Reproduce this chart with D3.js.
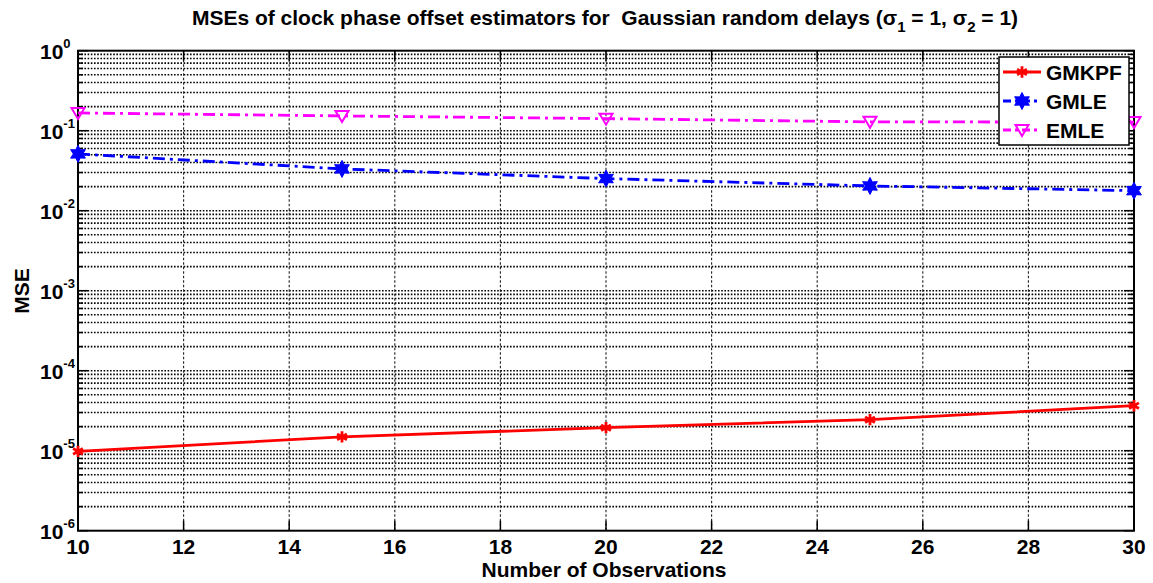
<!DOCTYPE html>
<html><head><meta charset="utf-8">
<script src="https://cdn.jsdelivr.net/npm/d3@7"></script>
<style>body{margin:0;background:#fff}svg{display:block;font-family:"Liberation Sans",Arial,sans-serif}</style>
</head><body><svg id="c" width="1153" height="583"></svg>
<script>
const observations = [10, 15, 20, 25, 30];
const gmkpf = [9.8e-6, 1.49e-5, 1.94e-5, 2.44e-5, 3.65e-5];
const gmle = [0.0513, 0.0333, 0.0252, 0.0204, 0.0178];
const emle = [0.1667, 0.153, 0.1415, 0.129, 0.128];
const xTicks = [10, 12, 14, 16, 18, 20, 22, 24, 26, 28, 30];
const yExponents = [0, -1, -2, -3, -4, -5, -6];
const seriesNames = ["GMKPF", "GMLE", "EMLE"];
const titleParts = ["MSEs of clock phase offset estimators for  Gaussian random delays (σ", "1", " = 1, σ", "2", " = 1)"];

const svg = d3.select("#c");
const L = 78, R = 1134, T = 50.7, B = 530.7;
const x = d3.scaleLinear().domain([10, 30]).range([L, R]);
const y = d3.scaleLog().domain([1e-6, 1]).range([B, T]);

// grid
const g = svg.append("g");
const minor = [];
for (let e = -6; e < 0; e++) for (let m = 2; m <= 9; m++) minor.push(m * Math.pow(10, e));
const majors = yExponents.map(e => Math.pow(10, e));
g.selectAll(".hg").data(minor.concat(majors.slice(1, -1))).join("line")
  .attr("x1", L).attr("x2", R).attr("y1", d => y(d)).attr("y2", d => y(d))
  .attr("stroke", "#000").attr("stroke-width", 1.6).attr("stroke-dasharray", "1.6,1.6");
g.selectAll(".vg").data(xTicks.slice(1, -1)).join("line")
  .attr("x1", d => x(d)).attr("x2", d => x(d)).attr("y1", T).attr("y2", B)
  .attr("stroke", "#222").attr("stroke-width", 1.1).attr("stroke-dasharray", "2.5,2");

// ticks inside
const tk = svg.append("g").attr("stroke", "#000").attr("stroke-width", 1.5);
xTicks.forEach(t => {
  tk.append("line").attr("x1", x(t)).attr("x2", x(t)).attr("y1", B).attr("y2", B - 10);
  tk.append("line").attr("x1", x(t)).attr("x2", x(t)).attr("y1", T).attr("y2", T + 10);
});
majors.forEach(v => {
  tk.append("line").attr("x1", L).attr("x2", L + 10).attr("y1", y(v)).attr("y2", y(v));
  tk.append("line").attr("x1", R).attr("x2", R - 10).attr("y1", y(v)).attr("y2", y(v));
});
minor.forEach(v => {
  tk.append("line").attr("x1", L).attr("x2", L + 5).attr("y1", y(v)).attr("y2", y(v));
  tk.append("line").attr("x1", R).attr("x2", R - 5).attr("y1", y(v)).attr("y2", y(v));
});
svg.append("rect").attr("x", L).attr("y", T).attr("width", R - L).attr("height", B - T)
  .attr("fill", "none").attr("stroke", "#000").attr("stroke-width", 2);

// axes labels
svg.append("g").selectAll("text").data(xTicks).join("text")
  .attr("x", d => x(d)).attr("y", 554).attr("text-anchor", "middle")
  .attr("font-size", 21).attr("font-weight", "bold").text(d => d);
const yl = svg.append("g").selectAll("text").data(yExponents).join("text")
  .attr("x", 40).attr("y", e => y(Math.pow(10, e)) + 8)
  .attr("font-size", 21).attr("font-weight", "bold");
yl.append("tspan").text("10");
yl.append("tspan").attr("dy", -11).attr("font-size", 13).text(e => e);

svg.append("text").attr("x", 604).attr("y", 577).attr("text-anchor", "middle")
  .attr("font-size", 21).attr("font-weight", "bold").text("Number of Observations");
svg.append("text").attr("transform", "translate(29,291) rotate(-90)").attr("text-anchor", "middle")
  .attr("font-size", 21).attr("font-weight", "bold").text("MSE");

const title = svg.append("text").attr("x", 605).attr("y", 25).attr("text-anchor", "middle")
  .attr("font-size", 21).attr("font-weight", "bold").style("white-space", "pre");
title.append("tspan").text(titleParts[0]);
title.append("tspan").attr("dy", 7).attr("font-size", 15).text(titleParts[1]);
title.append("tspan").attr("dy", -7).text(titleParts[2]);
title.append("tspan").attr("dy", 7).attr("font-size", 15).text(titleParts[3]);
title.append("tspan").attr("dy", -7).text(titleParts[4]);

// markers
function hexagram(r) {
  const pts = [];
  for (let i = 0; i < 12; i++) {
    const a = Math.PI / 2 + i * Math.PI / 6;
    const rr = i % 2 === 0 ? r : r * 0.55;
    pts.push([rr * Math.cos(a), -rr * Math.sin(a)]);
  }
  return "M" + pts.map(p => p.join(",")).join("L") + "Z";
}
const styles = [
  {name: seriesNames[0], data: gmkpf, color: "#ff0000", dash: null,
   marker: sel => sel.append("path").attr("d", d3.symbol(d3.symbolAsterisk, 90)()).attr("stroke", "#ff0000").attr("stroke-width", 2.8).attr("fill", "none")},
  {name: seriesNames[1], data: gmle, color: "#0000ff", dash: "12,5,3,5",
   marker: sel => sel.append("path").attr("d", hexagram(8.5)).attr("fill", "#0000ff").attr("stroke", "#0000ff").attr("stroke-width", 1)},
  {name: seriesNames[2], data: emle, color: "#ff00ff", dash: "12,5,3,5",
   marker: sel => sel.append("path").attr("d", "M-6.5,-5L6.5,-5L0,6Z").attr("fill", "none").attr("stroke", "#ff00ff").attr("stroke-width", 2)}
];
const line = d3.line().x(d => x(d[0])).y(d => y(d[1]));
styles.forEach(s => {
  const pts = observations.map((o, i) => [o, s.data[i]]);
  svg.append("path").attr("d", line(pts)).attr("fill", "none").attr("stroke", s.color)
    .attr("stroke-width", 2.8).attr("stroke-dasharray", s.dash);
  pts.forEach(p => {
    const m = svg.append("g").attr("transform", `translate(${x(p[0])},${y(p[1])})`);
    s.marker(m);
  });
});

// legend
const lg = svg.append("g");
lg.append("rect").attr("x", 999).attr("y", 57).attr("width", 130).attr("height", 88)
  .attr("fill", "#fff").attr("stroke", "#000").attr("stroke-width", 1.5);
styles.forEach((s, i) => {
  const cy = 72 + i * 29;
  lg.append("line").attr("x1", 1003).attr("x2", 1041).attr("y1", cy).attr("y2", cy)
    .attr("stroke", s.color).attr("stroke-width", 2.8).attr("stroke-dasharray", s.dash ? "8,4,3,4" : null);
  const m = lg.append("g").attr("transform", `translate(1022,${cy})`);
  s.marker(m);
  lg.append("text").attr("x", 1046).attr("y", cy + 8).attr("font-size", 21).attr("font-weight", "bold").text(s.name);
});
</script></body></html>
